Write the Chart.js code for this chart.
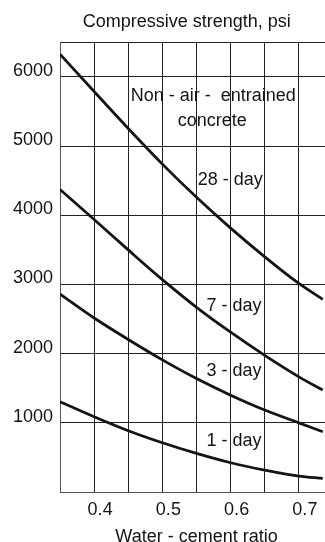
<!DOCTYPE html>
<html lang="en">
<head>
  <meta charset="UTF-8" />
  <title>Compressive strength vs water-cement ratio</title>
  <script src="https://cdn.jsdelivr.net/npm/chart.js"></script>
  <style>
    body {
      margin: 0;
      background: white;
      overflow: hidden;
    }
    #chart {
      display: block;
    }
  </style>
</head>
<body>
  <canvas id="chart" width="340" height="542"></canvas>

  <script>
    // === Data ===
    const ratios = [0.35, 0.40, 0.45, 0.50, 0.55, 0.60, 0.65, 0.70, 0.735];
    const day28 = [6330, 5790, 5255, 4740, 4260, 3815, 3400, 3015, 2785];
    const day7  = [4374, 3940, 3500, 3070, 2670, 2310, 1975, 1665, 1474];
    const day3  = [2861, 2515, 2205, 1910, 1640, 1400, 1185, 1000, 871];
    const day1  = [1305, 1088, 886, 712, 558, 423, 317, 231, 198];
    const seriesNames = ['28 - day', '7 - day', '3 - day', '1 - day'];
    const xGrid = [0.35, 0.40, 0.45, 0.50, 0.55, 0.60, 0.65, 0.70, 0.75];
    const xTickLabels = ['0.4', '0.5', '0.6', '0.7'];
    const yGrid = [0, 1000, 2000, 3000, 4000, 5000, 6000, 6500];
    const yTickLabels = ['1000', '2000', '3000', '4000', '5000', '6000'];
    const chartTitle = 'Compressive strength, psi';
    const xTitle = 'Water - cement ratio';
    const noteLines = ['Non - air -  entrained', 'concrete'];

    const FONT = 'Liberation Sans, Arial, Helvetica, sans-serif';
    const INK = '#141414';

    const toPoints = vals => vals.map((v, i) => ({ x: ratios[i], y: v }));
    const curve = (label, vals) => ({
      label: label,
      data: toPoints(vals),
      borderColor: INK,
      borderWidth: 2.8,
      pointRadius: 0,
      tension: 0.4,
      cubicInterpolationMode: 'monotone',
      fill: false
    });

    // text placed in data units: [text, x, y(baseline)]
    const notes = [
      [noteLines[0], 0.5746, 5646],
      [noteLines[1], 0.5732, 5289],
      [seriesNames[0], 0.5993, 4440],
      [seriesNames[1], 0.605, 2620],
      [seriesNames[2], 0.605, 1676],
      [seriesNames[3], 0.605, 662]
    ];

    const textPlugin = {
      id: 'chartText',
      afterDraw(chart) {
        const ctx = chart.ctx;
        const xs = chart.scales.x, ys = chart.scales.y;
        ctx.save();
        ctx.fillStyle = INK;
        ctx.font = '18px ' + FONT;
        ctx.textAlign = 'center';
        ctx.textBaseline = 'alphabetic';
        ctx.fillText(chartTitle, 186.7, 27);
        notes.forEach(([t, x, y]) => {
          ctx.fillText(t, xs.getPixelForValue(x), ys.getPixelForValue(y));
        });
        ctx.restore();
      }
    };

    new Chart(document.getElementById('chart'), {
      type: 'line',
      data: {
        datasets: [
          curve(seriesNames[0], day28),
          curve(seriesNames[1], day7),
          curve(seriesNames[2], day3),
          curve(seriesNames[3], day1)
        ]
      },
      options: {
        responsive: false,
        animation: false,
        layout: { padding: { top: 42.4, right: 4, left: 0, bottom: 0 } },
        plugins: {
          legend: { display: false },
          title: { display: false },
          tooltip: { enabled: false }
        },
        scales: {
          x: {
            type: 'linear',
            min: 0.35,
            max: 0.75,
            afterBuildTicks: s => { s.ticks = xGrid.map(v => ({ value: v })); },
            afterFit: s => { s.height = 50; },
            border: { color: '#555', width: 1 },
            grid: { color: '#222', lineWidth: 1, drawTicks: false },
            ticks: {
              padding: 7,
              labelOffset: 6,
              color: INK,
              font: { family: FONT, size: 18 },
              maxRotation: 0,
              autoSkip: false,
              callback: v => {
                const s = v.toFixed(2).replace(/0$/, '');
                return xTickLabels.includes(s) ? s : '';
              }
            },
            title: {
              display: true,
              text: xTitle,
              color: INK,
              font: { family: FONT, size: 18 },
              padding: { top: 0, bottom: -6 }
            }
          },
          y: {
            min: 0,
            max: 6500,
            afterBuildTicks: s => { s.ticks = yGrid.map(v => ({ value: v })); },
            afterFit: s => { s.width = 60; },
            border: { color: '#555', width: 1 },
            grid: { color: '#222', lineWidth: 1, drawTicks: false },
            ticks: {
              padding: 7,
              labelOffset: -6,
              color: INK,
              font: { family: FONT, size: 18 },
              autoSkip: false,
              callback: v => yTickLabels.includes(String(v)) ? String(v) : ''
            }
          }
        }
      },
      plugins: [textPlugin]
    });
  </script>
</body>
</html>
